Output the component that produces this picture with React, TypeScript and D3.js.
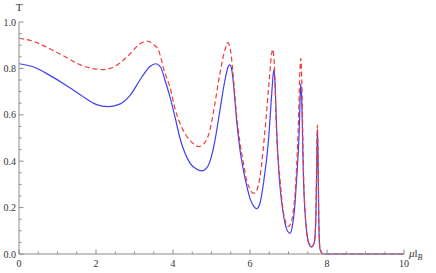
import React from "react";
import * as d3 from "d3";

// values
const blueX = [0, 0.4, 0.8, 1.2, 1.6, 2.0, 2.3, 2.6, 2.88, 3.2, 3.4, 3.55, 3.68, 3.79, 3.92, 4.05, 4.18, 4.31, 4.44, 4.6, 4.75, 4.88, 4.98, 5.09, 5.22, 5.35, 5.44, 5.48, 5.53, 5.6, 5.65, 5.74, 5.83, 5.92, 6.0, 6.08, 6.17, 6.26, 6.35, 6.48, 6.56, 6.6, 6.62, 6.65, 6.69, 6.74, 6.78, 6.85, 6.91, 6.97, 7.04, 7.1, 7.16, 7.21, 7.28, 7.31, 7.32, 7.34, 7.39, 7.47, 7.53, 7.6, 7.67, 7.71, 7.74, 7.752, 7.765, 7.79, 7.82, 7.9, 10];
const blueT = [0.82, 0.805, 0.77, 0.73, 0.685, 0.645, 0.635, 0.645, 0.683, 0.765, 0.808, 0.82, 0.805, 0.75, 0.678, 0.592, 0.5, 0.435, 0.392, 0.367, 0.358, 0.372, 0.41, 0.49, 0.62, 0.75, 0.81, 0.815, 0.79, 0.68, 0.58, 0.45, 0.36, 0.29, 0.24, 0.21, 0.195, 0.22, 0.305, 0.49, 0.68, 0.77, 0.793, 0.74, 0.55, 0.38, 0.29, 0.19, 0.132, 0.1, 0.089, 0.12, 0.2, 0.32, 0.54, 0.71, 0.733, 0.68, 0.32, 0.1, 0.045, 0.03, 0.05, 0.15, 0.45, 0.54, 0.44, 0.12, 0.02, 0, 0];

const redX = [0, 0.4, 0.8, 1.2, 1.6, 2.0, 2.2, 2.5, 2.88, 3.1, 3.32, 3.48, 3.62, 3.79, 3.92, 4.05, 4.18, 4.31, 4.44, 4.56, 4.66, 4.8, 4.96, 5.09, 5.22, 5.35, 5.42, 5.5, 5.58, 5.65, 5.74, 5.83, 5.91, 6.0, 6.08, 6.16, 6.26, 6.39, 6.5, 6.56, 6.59, 6.63, 6.69, 6.78, 6.85, 6.92, 6.99, 7.06, 7.12, 7.17, 7.25, 7.3, 7.32, 7.34, 7.39, 7.47, 7.53, 7.6, 7.67, 7.71, 7.735, 7.75, 7.765, 7.79, 7.82, 7.9, 10];
const redT = [0.93, 0.915, 0.885, 0.85, 0.815, 0.797, 0.795, 0.81, 0.862, 0.9, 0.918, 0.905, 0.88, 0.78, 0.72, 0.628, 0.564, 0.52, 0.49, 0.472, 0.463, 0.475, 0.535, 0.65, 0.78, 0.88, 0.911, 0.87, 0.74, 0.6, 0.48, 0.39, 0.32, 0.28, 0.262, 0.27, 0.333, 0.535, 0.75, 0.86, 0.882, 0.82, 0.52, 0.32, 0.2, 0.14, 0.118, 0.13, 0.18, 0.26, 0.53, 0.8, 0.843, 0.78, 0.35, 0.1, 0.045, 0.032, 0.05, 0.16, 0.42, 0.556, 0.44, 0.12, 0.02, 0, 0];

const xTicks = [0, 2, 4, 6, 8, 10];
const yTicks = [0, 0.2, 0.4, 0.6, 0.8, 1.0];

const App = () => {
  const x = d3.scaleLinear().domain([0, 10]).range([19, 404]);
  const y = d3.scaleLinear().domain([0, 1]).range([254, 22]);

  const line = d3.line<[number, number]>()
    .x(d => x(d[0]))
    .y(d => y(d[1]))
    .curve(d3.curveMonotoneX);

  const blue = line(d3.zip(blueX, blueT) as [number, number][]);
  const red = line(d3.zip(redX, redT) as [number, number][]);

  const xMinor = d3.range(0, 10.01, 0.5);
  const yMinor = d3.range(0, 1.001, 0.05);
  const axisColor = "#8c8c8c";
  const font = "'Liberation Serif', 'DejaVu Serif', serif";

  return (
    <svg width="436" height="273" style={{ position: "absolute", left: 0, top: 0 }}>
      <rect width="436" height="273" fill="white" />
      <path d={blue ?? ""} fill="none" stroke="#4040f0" strokeWidth="1.2" />
      <path d={red ?? ""} fill="none" stroke="#f03a3a" strokeWidth="1.2" strokeDasharray="5,3" />

      {/* axes */}
      <line x1={x(0)} x2={x(10)} y1={y(0)} y2={y(0)} stroke={axisColor} strokeWidth="1" />
      <line x1={x(0)} x2={x(0)} y1={y(0)} y2={y(1)} stroke={axisColor} strokeWidth="1" />
      {xMinor.map((t, i) => (
        <line key={"xm" + i} x1={x(t)} x2={x(t)} y1={y(0)} y2={y(0) - (i % 4 === 0 ? 4.5 : 2.5)} stroke={axisColor} />
      ))}
      {yMinor.map((t, i) => (
        <line key={"ym" + i} x1={x(0)} x2={x(0) + (i % 4 === 0 ? 4.5 : 2.5)} y1={y(t)} y2={y(t)} stroke={axisColor} />
      ))}
      {xTicks.map(t => (
        <text key={"xt" + t} x={x(t)} y={y(0) + 13} fontSize="10" fontFamily={font} textAnchor="middle" fill="#333">{t}</text>
      ))}
      {yTicks.map(t => (
        <text key={"yt" + t} x={x(0) - 3} y={y(t) + 3.5} fontSize="10" fontFamily={font} textAnchor="end" fill="#333">{t.toFixed(1)}</text>
      ))}
      <text x={x(0)} y={11} fontSize="11" fontFamily={font} textAnchor="middle" fill="#333">T</text>
      <text x={409} y={y(0) + 3} fontSize="11" fontFamily={font} fill="#333">
        <tspan fontStyle="italic">μ</tspan>l<tspan fontSize="8" dy="3" fontStyle="italic">B</tspan>
      </text>
    </svg>
  );
};

export default App;
